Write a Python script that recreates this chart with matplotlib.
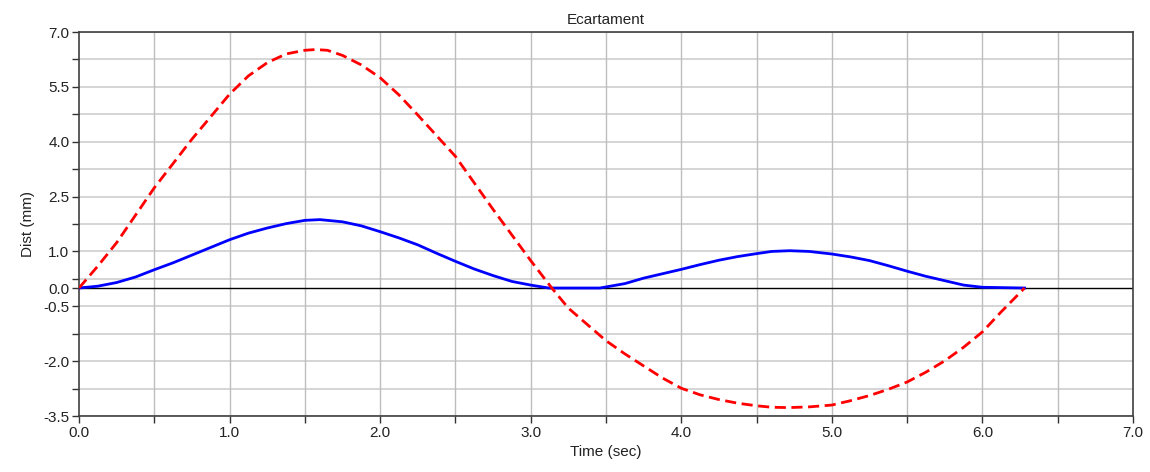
import numpy as np
import matplotlib
matplotlib.use("Agg")
import matplotlib.pyplot as plt

plt.rcParams['font.family'] = ['Liberation Sans', 'DejaVu Sans']

# red dashed curve
t_red = [0.0, 0.125, 0.25, 0.5, 0.75, 1.0, 1.125, 1.25, 1.375, 1.5, 1.57, 1.65,
         1.75, 1.875, 2.0, 2.125, 2.25, 2.5, 2.75, 3.0, 3.14, 3.25, 3.5, 3.625,
         3.75, 3.875, 4.0, 4.125, 4.25, 4.375, 4.5, 4.6, 4.71, 4.85, 5.0, 5.125,
         5.25, 5.375, 5.5, 5.625, 5.75, 5.875, 6.0, 6.125, 6.28]
d_red = [0.0, 0.6, 1.24, 2.74, 4.07, 5.3, 5.8, 6.16, 6.4, 6.5, 6.52, 6.5,
         6.36, 6.1, 5.75, 5.28, 4.73, 3.6, 2.15, 0.75, 0.0, -0.55, -1.44, -1.8,
         -2.13, -2.46, -2.74, -2.92, -3.05, -3.15, -3.22, -3.26, -3.27, -3.25, -3.2, -3.08,
         -2.94, -2.77, -2.57, -2.3, -1.99, -1.62, -1.2, -0.65, 0.0]

# blue solid curve
t_blue = [0.0, 0.125, 0.25, 0.375, 0.5, 0.625, 0.75, 0.875, 1.0, 1.125, 1.25, 1.375,
          1.5, 1.6, 1.75, 1.875, 2.0, 2.125, 2.25, 2.375, 2.5, 2.625, 2.75, 2.875,
          3.0, 3.12, 3.46, 3.625, 3.75, 3.875, 4.0, 4.125, 4.25, 4.375, 4.5, 4.6,
          4.72, 4.85, 5.0, 5.125, 5.25, 5.375, 5.5, 5.625, 5.75, 5.875, 6.0, 6.28]
d_blue = [0.0, 0.05, 0.15, 0.3, 0.5, 0.69, 0.9, 1.11, 1.32, 1.5, 1.64, 1.76,
          1.85, 1.87, 1.81, 1.7, 1.54, 1.37, 1.18, 0.95, 0.73, 0.52, 0.34, 0.18,
          0.08, 0.0, 0.0, 0.12, 0.27, 0.39, 0.51, 0.64, 0.76, 0.86, 0.94, 1.0,
          1.02, 1.0, 0.93, 0.85, 0.75, 0.61, 0.46, 0.32, 0.2, 0.08, 0.02, 0.0]

yticks = [7.0, 5.5, 4.0, 2.5, 1.0, 0.0, -0.5, -2.0, -3.5]
yminor = [6.25, 4.75, 3.25, 1.75, 0.25, -1.25, -2.75]
xticks = [0, 1, 2, 3, 4, 5, 6, 7]
xminor = [0.5, 1.5, 2.5, 3.5, 4.5, 5.5, 6.5]

fig = plt.figure(figsize=(11.5, 4.72), dpi=100)
ax = fig.add_axes([0.0687, 0.1186, 0.9165, 0.8136])

for y in yticks + yminor:
    if y != 0.0:
        ax.axhline(y, color='#d2d2d2', lw=1.3, zorder=0)
for x in xticks[1:-1] + xminor:
    ax.axvline(x, color='#bdbdbd', lw=1.0, zorder=0)
ax.axhline(0.0, color='black', lw=1.0, zorder=1)

ax.plot(t_blue, d_blue, color='#0000ff', lw=2, zorder=3)
ax.plot(t_red, d_red, color='#ff0000', lw=2, ls=(0, (4, 2)), zorder=4)

ax.set_xlim(0, 7)
ax.set_ylim(-3.5, 7.0)
ax.set_yticks(yticks)
ax.set_yticks(yminor, minor=True)
ax.set_xticks(xticks)
ax.set_xticks(xminor, minor=True)
ax.set_yticklabels(["%.1f" % v for v in yticks])
ax.set_xticklabels(["%.1f" % v for v in xticks])
ax.tick_params(which='both', direction='out', length=5, width=1, color='#333333',
               labelsize=11, labelcolor='#222222', pad=2)

for s in ax.spines.values():
    s.set_color('#404040')
    s.set_linewidth(1.2)

ax.set_title("Ecartament", fontsize=11, color='#222222', pad=6)
ax.set_xlabel("Time (sec)", fontsize=11, color='#222222', labelpad=4)
ax.set_ylabel("Dist (mm)", fontsize=11, color='#222222', labelpad=6)

fig.savefig("out.png", dpi=100)
